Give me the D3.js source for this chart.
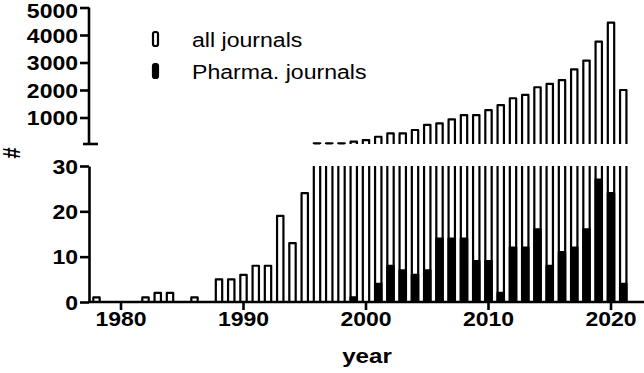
<!DOCTYPE html>
<html>
<head>
<meta charset="utf-8">
<script src="https://cdn.jsdelivr.net/npm/d3@7/dist/d3.min.js"></script>
<style>
    body { margin: 0; background: #fff; }
    text { font-family: "Liberation Sans", Arial, Helvetica, sans-serif; fill: #000; }
</style>
</head>
<body>
<svg width="644" height="373"></svg>
<script>
// publication counts per year
const years = [1978, 1979, 1980, 1981, 1982, 1983, 1984, 1985, 1986, 1987,
    1988, 1989, 1990, 1991, 1992, 1993, 1994, 1995, 1996, 1997,
    1998, 1999, 2000, 2001, 2002, 2003, 2004, 2005, 2006, 2007,
    2008, 2009, 2010, 2011, 2012, 2013, 2014, 2015, 2016, 2017,
    2018, 2019, 2020, 2021]
const allJournals = [1, 0, 0, 0, 1, 2, 2, 0, 1, 0,
    5, 5, 6, 8, 8, 19, 13, 24, 60, 60,
    60, 120, 180, 300, 420, 420, 545, 730, 790, 930,
    1090, 1090, 1270, 1450, 1700, 1820, 2100, 2220, 2360, 2750,
    3070, 3760, 4450, 2000]
const pharmaJournals = [0, 0, 0, 0, 0, 0, 0, 0, 0, 0,
    0, 0, 0, 0, 0, 0, 0, 0, 0, 0,
    0, 1, 0, 4, 8, 7, 6, 7, 14, 14,
    14, 9, 9, 2, 12, 12, 16, 8, 11, 12,
    16, 27, 24, 4]
const xTicks = [1980, 1990, 2000, 2010, 2020]
const lowTicks = [0, 10, 20, 30]
const highTicks = [1000, 2000, 3000, 4000, 5000]
const seriesNames = ["all journals", "Pharma. journals"]

let svg = d3.select("svg")
let axisX = 89, breakLow = 30
let barStroke = 2.2

let data = years.map(function (y, i) {
    return {year: y, all: allJournals[i], pharma: pharmaJournals[i]}
})

let x = d3.scaleBand()
    .domain(years)
    .range([90.375, 629.375])
    .paddingInner(0.48)
    .paddingOuter(0.24)

let yLow = d3.scaleLinear().domain([0, breakLow]).range([302, 166])
let yHigh = d3.scaleLinear().domain([0, 5000]).range([145, 7.5])

const stretch = "scale(1.15,1)"

// bars - bottom segment (open top when clipped)
let gLow = svg.append("g")
gLow.selectAll("path.all")
    .data(data.filter(d => d.all > 0))
    .enter()
    .append("path")
    .attr("class", "all")
    .attr("d", function (d) {
        let x0 = x(d.year), x1 = x0 + x.bandwidth()
        let y0 = yLow(0), y1 = yLow(Math.min(d.all, breakLow))
        if (d.all > breakLow) {
            return "M" + x0 + "," + y0 + "V" + y1 + "M" + x1 + "," + y1 + "V" + y0
        }
        return "M" + x0 + "," + y0 + "V" + y1 + "H" + x1 + "V" + y0
    })
    .attr("fill", "#fff")
    .attr("stroke", "#000")
    .attr("stroke-width", barStroke)
    .attr("stroke-linejoin", "round")

gLow.selectAll("rect.pharma")
    .data(data.filter(d => d.pharma > 0))
    .enter()
    .append("rect")
    .attr("class", "pharma")
    .attr("x", d => x(d.year))
    .attr("width", x.bandwidth())
    .attr("y", d => yLow(d.pharma))
    .attr("height", d => yLow(0) - yLow(d.pharma))
    .attr("fill", "#000")
    .attr("stroke", "#000")
    .attr("stroke-width", barStroke)
    .attr("stroke-linejoin", "round")

// bars - top segment
svg.append("g")
    .selectAll("path")
    .data(data.filter(d => d.all > breakLow))
    .enter()
    .append("path")
    .attr("d", function (d) {
        let x0 = x(d.year), x1 = x0 + x.bandwidth()
        let y0 = yHigh(0) - 1, y1 = yHigh(d.all)
        return "M" + x0 + "," + y0 + "V" + y1 + "H" + x1 + "V" + y0
    })
    .attr("fill", "#fff")
    .attr("stroke", "#000")
    .attr("stroke-width", barStroke)
    .attr("stroke-linejoin", "round")

// axes
function styleAxis(g) {
    g.selectAll("path, line").attr("stroke", "#000").attr("stroke-width", 2.6)
    g.selectAll("text")
        .style("font-size", "20px")
        .style("font-weight", "bold")
        .attr("fill", "#000")
}

let gyLow = svg.append("g")
    .attr("transform", "translate(" + axisX + ",0)")
    .call(d3.axisLeft(yLow).tickValues(lowTicks).tickFormat(d3.format("d")).tickSize(9).tickSizeOuter(0))
styleAxis(gyLow)
gyLow.selectAll("text")
    .attr("x", 0)
    .attr("dy", "0.36em")
    .attr("transform", "translate(-11,0) " + stretch)

let gyHigh = svg.append("g")
    .attr("transform", "translate(" + axisX + ",0)")
    .call(d3.axisLeft(yHigh).tickValues(highTicks).tickFormat(d3.format("d")).tickSize(9).tickSizeOuter(0))
styleAxis(gyHigh)
gyHigh.select(".domain").attr("d", "M0," + yHigh(5000) + "V" + (yHigh(0) - 1))
gyHigh.selectAll("text")
    .attr("x", 0)
    .attr("dy", d => d === 5000 ? "0.5em" : "0.36em")
    .attr("transform", "translate(-11,0) " + stretch)

// break cap at bottom of upper segment
svg.append("line")
    .attr("x1", axisX - 6).attr("x2", axisX + 9)
    .attr("y1", yHigh(0) - 1).attr("y2", yHigh(0) - 1)
    .attr("stroke", "#000").attr("stroke-width", 2.6)

let gx = svg.append("g")
    .attr("transform", "translate(0," + yLow(0) + ")")
    .call(d3.axisBottom(x).tickValues(xTicks).tickSize(8).tickSizeOuter(0))
styleAxis(gx)
gx.select(".domain").attr("d", "M" + (axisX - 1) + ",0H644")
gx.selectAll("text")
    .attr("y", 0)
    .attr("dy", null)
    .attr("transform", "translate(0,24) " + stretch)

// axis titles
svg.append("text")
    .attr("transform", "translate(12,153) rotate(-90) scale(1,1.15)")
    .attr("text-anchor", "middle")
    .attr("dy", "0.36em")
    .style("font-size", "20px")
    .style("font-weight", "bold")
    .text("#")

svg.append("text")
    .attr("transform", "translate(367,363) " + stretch)
    .attr("text-anchor", "middle")
    .style("font-size", "21px")
    .style("font-weight", "bold")
    .text("year")

// legend
let legend = svg.append("g")
legend.selectAll("rect")
    .data(seriesNames)
    .enter()
    .append("rect")
    .attr("x", 153)
    .attr("y", (d, i) => 32 + i * 32)
    .attr("width", 5)
    .attr("height", 14)
    .attr("rx", 2)
    .attr("fill", (d, i) => i === 0 ? "#fff" : "#000")
    .attr("stroke", "#000")
    .attr("stroke-width", barStroke)

legend.selectAll("text")
    .data(seriesNames)
    .enter()
    .append("text")
    .attr("transform", (d, i) => "translate(192," + (46.5 + i * 32) + ") scale(1.1,1)")
    .style("font-size", "21px")
    .text(d => d)
</script>
</body>
</html>
